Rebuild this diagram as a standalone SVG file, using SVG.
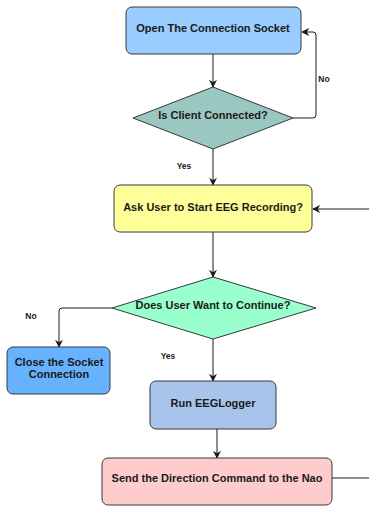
<svg xmlns="http://www.w3.org/2000/svg" width="369" height="506" viewBox="0 0 369 506">
<style>
.n{stroke:#36393d;stroke-width:1}
.t{font-family:"Liberation Sans",Arial,sans-serif;font-weight:bold;font-size:11px;fill:#1a1a1a;text-anchor:middle;dominant-baseline:central}
.l{font-family:"Liberation Sans",Arial,sans-serif;font-weight:bold;font-size:8.5px;fill:#1a1a1a;text-anchor:middle;dominant-baseline:central}
.c{fill:none;stroke:#1a1a1a;stroke-width:1;marker-end:url(#ah)}
.p{fill:none;stroke:#1a1a1a;stroke-width:1}
</style>
<defs>
<marker id="ah" viewBox="0 0 10 10" refX="9" refY="5" markerWidth="8" markerHeight="8" markerUnits="userSpaceOnUse" orient="auto">
<path d="M0,0 L10,5 L0,10 L3,5 Z" fill="#1a1a1a"/>
</marker>
</defs>
<g id="connectors">
<path class="c" d="M213,54 V87"/>
<path class="c" d="M293,118 H313 Q316,118 316,115 V35 Q316,32 313,32 H302"/>
<path class="c" d="M213,149 V185"/>
<path class="c" d="M369,209 H313"/>
<path class="c" d="M213,232 V277"/>
<path class="c" d="M112,308 H62 Q59,308 59,311 V347"/>
<path class="c" d="M213,339 V381"/>
<path class="c" d="M217,429 V458"/>
<path class="p" d="M332,478 H369"/>
<text class="l" x="324" y="79">No</text>
<text class="l" x="184" y="166">Yes</text>
<text class="l" x="31" y="316">No</text>
<text class="l" x="168" y="356">Yes</text>
</g>
<g id="open-socket">
<rect class="n" x="126" y="7" width="175" height="47" rx="6" fill="#99ccff"/>
<text class="t" x="213" y="28">Open The Connection Socket</text>
</g>
<g id="client-connected">
<polygon class="n" points="213,87 293,118 213,149 133,118" fill="#9ac7bf"/>
<text class="t" x="213" y="115">Is Client Connected?</text>
</g>
<g id="ask-user">
<rect class="n" x="114" y="185" width="198" height="47" rx="6" fill="#ffff99"/>
<text class="t" x="213" y="207">Ask User to Start EEG Recording?</text>
</g>
<g id="continue">
<polygon class="n" points="213,277 316,308 213,339 112,308" fill="#99ffcc"/>
<text class="t" x="213" y="305">Does User Want to Continue?</text>
</g>
<g id="close-socket">
<rect class="n" x="7" y="347" width="103" height="47" rx="6" fill="#66b2ff"/>
<text class="t" x="59" y="362">Close the Socket</text>
<text class="t" x="59" y="374">Connection</text>
</g>
<g id="run-logger">
<rect class="n" x="150" y="381" width="126" height="48" rx="6" fill="#a9c4eb"/>
<text class="t" x="213" y="403">Run EEGLogger</text>
</g>
<g id="send-command">
<rect class="n" x="102" y="458" width="230" height="47" rx="6" fill="#ffcccc"/>
<text class="t" x="217" y="478">Send the Direction Command to the Nao</text>
</g>
</svg>
